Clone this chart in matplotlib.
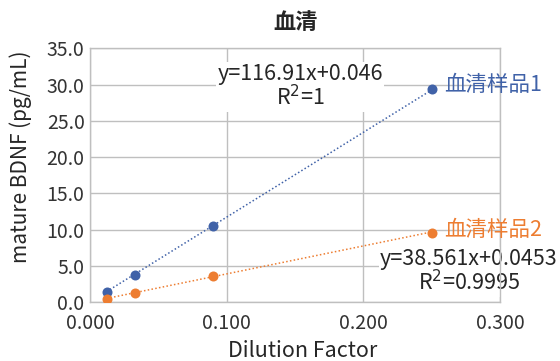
import numpy as np
import matplotlib.pyplot as plt

plt.rcParams["font.family"] = ["Noto Sans CJK SC", "DejaVu Sans"]

# data
dilution = [0.012, 0.033, 0.09, 0.25]
sample1 = [1.4, 3.8, 10.5, 29.4]
sample2 = [0.5, 1.2, 3.55, 9.6]

fit1 = (116.91, 0.046)
fit2 = (38.561, 0.0453)

blue = "#4062A8"
orange = "#ED7D31"
grid_c = "#BFBFBF"
text_c = "#262626"

fig = plt.figure(figsize=(5.6, 3.61), dpi=100)
ax = fig.add_axes([0.161, 0.163, 0.732, 0.703])

xs = np.array([min(dilution), max(dilution)])
ax.plot(xs, fit1[0] * xs + fit1[1], linestyle=(0, (1, 1.5)), color=blue, lw=1.1, zorder=3)
ax.plot(xs, fit2[0] * xs + fit2[1], linestyle=(0, (1, 1.5)), color=orange, lw=1.1, zorder=3)
ax.scatter(dilution, sample1, s=52, color=blue, zorder=4, linewidths=0)
ax.scatter(dilution, sample2, s=52, color=orange, zorder=4, linewidths=0)

ax.set_xlim(0, 0.3)
ax.set_ylim(0, 35)
ax.set_xticks([0, 0.1, 0.2, 0.3])
ax.set_xticklabels(["0.000", "0.100", "0.200", "0.300"])
ax.set_yticks(np.arange(0, 36, 5))
ax.set_yticklabels([f"{v:.1f}" for v in np.arange(0, 36, 5)])
ax.tick_params(length=0, labelsize=14, colors="#333333")
ax.tick_params(axis="x", pad=8)
ax.tick_params(axis="y", pad=4)
ax.grid(True, color=grid_c, lw=1)
ax.set_axisbelow(True)
for s in ax.spines.values():
    s.set_color(grid_c)
    s.set_linewidth(1)

ax.set_title("血清", fontsize=16, fontweight="bold", color=text_c, pad=14)
ax.set_xlabel("Dilution Factor", fontsize=15.5, color=text_c)
ax.xaxis.set_label_coords(0.519, -0.15)
ax.set_ylabel("mature BDNF (pg/mL)", fontsize=15, color=text_c)
ax.yaxis.set_label_coords(-0.142, 0.573)

ax.annotate("血清样品1", (dilution[-1], sample1[-1]), xytext=(9, 3),
            textcoords="offset points", color=blue, fontsize=15.5, va="center")
ax.annotate("血清样品2", (dilution[-1], sample2[-1]), xytext=(9, 1.5),
            textcoords="offset points", color=orange, fontsize=15.5, va="center")

ax.text(300, 361 - 87, "y=116.91x+0.046\nR$^2$=1", transform=None, fontsize=15.5,
        ha="center", va="center", color=text_c, linespacing=1.0,
        bbox=dict(facecolor="white", edgecolor="none", pad=1), zorder=2)
ax.text(469, 361 - 272, "y=38.561x+0.0453\nR$^2$=0.9995", transform=None, fontsize=15.5,
        ha="center", va="center", color=text_c, linespacing=1.0,
        bbox=dict(facecolor="white", edgecolor="none", pad=1), zorder=2)

fig.savefig("out.png", dpi=100)
